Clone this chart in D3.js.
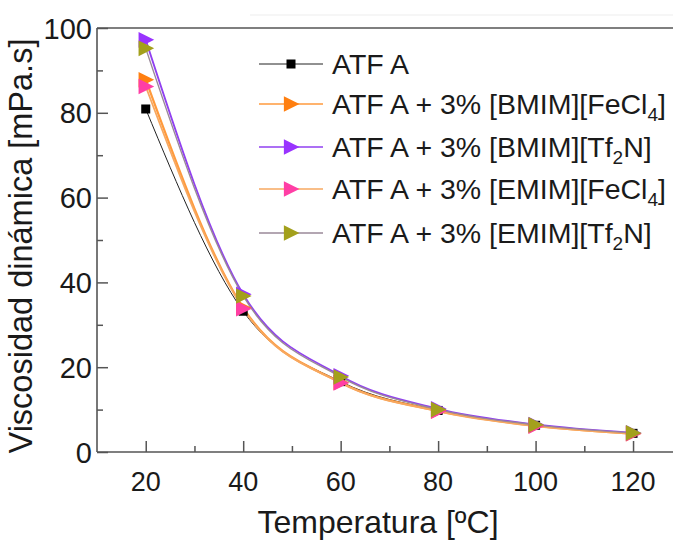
<!DOCTYPE html>
<html lang="es">
<head>
<meta charset="UTF-8">
<title>Viscosidad</title>
<script src="https://d3js.org/d3.v7.min.js"></script>
<style>
    body { margin: 0; background: #fff; }
    svg text { font-family: "Liberation Sans", Arial, sans-serif; fill: #1a1a1a; }
</style>
</head>
<body>
<svg id="chart" width="673" height="541"></svg>
<script>
    // data
    const temps = [20, 40, 60, 80, 100, 120];
    const atfA      = [80.9, 33.2, 16.6, 9.8, 6.3, 4.4];
    const bmimFeCl4 = [87.8, 34.0, 16.4, 9.7, 6.2, 4.3];
    const bmimTf2N  = [97.2, 37.2, 18.0, 10.2, 6.5, 4.5];
    const emimFeCl4 = [86.2, 33.8, 16.3, 9.6, 6.1, 4.3];
    const emimTf2N  = [95.2, 36.8, 17.7, 10.0, 6.4, 4.5];
    const seriesNames = ["ATF A", "ATF A + 3% [BMIM][FeCl4]", "ATF A + 3% [BMIM][Tf2N]",
                         "ATF A + 3% [EMIM][FeCl4]", "ATF A + 3% [EMIM][Tf2N]"];
    const yTicks = [0, 20, 40, 60, 80, 100];
    const xTicks = [20, 40, 60, 80, 100, 120];

    const series = [
        {name: seriesNames[0], values: atfA,      line: "#222",    marker: "#000",    shape: "square", w: 1},
        {name: seriesNames[1], values: bmimFeCl4, line: "#ff9a3c", marker: "#ff7f10", shape: "tri",    w: 2.2},
        {name: seriesNames[2], values: bmimTf2N,  line: "#9040f0", marker: "#9933ff", shape: "tri",    w: 1.8},
        {name: seriesNames[3], values: emimFeCl4, line: "#f7a860", marker: "#ff3ea5", shape: "tri",    w: 1.8},
        {name: seriesNames[4], values: emimTf2N,  line: "#9a8898", marker: "#a3a01c", shape: "tri",    w: 1.4}
    ];

    const svg = d3.select("#chart");
    const mLeft = 97, mTop = 28, mBottom = 452, mRight = 673;

    const x = d3.scaleLinear().domain([10, 128.2]).range([mLeft, mRight]);
    const y = d3.scaleLinear().domain([0, 100]).range([mBottom, mTop]);

    // faint line above the frame
    svg.append("line")
        .attr("x1", 250).attr("x2", 673).attr("y1", 15).attr("y2", 15)
        .attr("stroke", "#f6f6f6").attr("stroke-width", 2);

    // axes (ticks pointing inward)
    svg.append("g")
        .attr("transform", `translate(0,${mBottom})`)
        .call(d3.axisTop(x).tickValues(xTicks).tickSize(11).tickFormat(""));
    svg.append("g")
        .attr("transform", `translate(0,${mBottom})`)
        .call(d3.axisTop(x).tickValues(d3.range(30, 130, 20)).tickSize(6).tickFormat(""));
    svg.append("g")
        .attr("transform", `translate(${mLeft},0)`)
        .call(d3.axisRight(y).tickValues(yTicks).tickSize(11).tickFormat(""));
    svg.append("g")
        .attr("transform", `translate(${mLeft},0)`)
        .call(d3.axisRight(y).tickValues(d3.range(10, 100, 20)).tickSize(6).tickFormat(""));
    svg.selectAll(".domain").remove();
    svg.selectAll(".tick line").attr("stroke", "#555").attr("stroke-width", 1.5);

    // frame lines
    svg.append("line").attr("x1", mLeft).attr("x2", mRight).attr("y1", mBottom).attr("y2", mBottom)
        .attr("stroke", "#555").attr("stroke-width", 1.6);
    svg.append("line").attr("x1", mLeft).attr("x2", mLeft).attr("y1", mTop).attr("y2", mBottom)
        .attr("stroke", "#555").attr("stroke-width", 1.6);
    svg.append("line").attr("x1", mLeft).attr("x2", mRight).attr("y1", mTop).attr("y2", mTop)
        .attr("stroke", "#555").attr("stroke-width", 1.6);

    // tick labels
    svg.selectAll(".xlab").data(xTicks).enter().append("text")
        .attr("x", d => x(d)).attr("y", 491)
        .attr("text-anchor", "middle").attr("font-size", 27)
        .text(d => d);
    svg.selectAll(".ylab").data(yTicks).enter().append("text")
        .attr("x", 92).attr("y", d => y(d) + 10.5)
        .attr("text-anchor", "end").attr("font-size", 29)
        .text(d => d);

    // axis titles
    svg.append("text")
        .attr("x", 378).attr("y", 533)
        .attr("text-anchor", "middle").attr("font-size", 32)
        .text("Temperatura [ºC]");
    svg.append("text")
        .attr("transform", "translate(32,246) rotate(-90)")
        .attr("text-anchor", "middle").attr("font-size", 32.5)
        .text("Viscosidad dinámica [mPa.s]");

    // curves
    const line = d3.line()
        .x((d, i) => x(temps[i]))
        .y(d => y(d))
        .curve(d3.curveMonotoneX);

    const triangle = s => `M${-s * 0.55},${-s * 0.6}L${s * 0.65},0L${-s * 0.55},${s * 0.6}Z`;

    function drawMarker(g, shape, color, cx, cy) {
        if (shape === "square") {
            g.append("rect").attr("x", cx - 4.5).attr("y", cy - 4.5)
                .attr("width", 9).attr("height", 9).attr("fill", color);
        } else {
            g.append("path").attr("d", triangle(13))
                .attr("transform", `translate(${cx},${cy})`)
                .attr("fill", color);
        }
    }

    series.forEach(s => {
        svg.append("path")
            .attr("d", line(s.values))
            .attr("fill", "none")
            .attr("stroke", s.line)
            .attr("stroke-width", s.w);
    });
    series.forEach(s => {
        const g = svg.append("g");
        s.values.forEach((v, i) => drawMarker(g, s.shape, s.marker, x(temps[i]), y(v)));
    });

    // legend
    const legendY = [64, 104, 147, 189, 233];
    series.forEach((s, i) => {
        const g = svg.append("g");
        g.append("line").attr("x1", 259).attr("x2", 323)
            .attr("y1", legendY[i]).attr("y2", legendY[i])
            .attr("stroke", s.line).attr("stroke-width", s.w === 1 ? 1 : 1.6);
        drawMarker(g, s.shape, s.marker, 291, legendY[i]);

        const t = g.append("text").attr("x", 332).attr("y", legendY[i] + 10)
            .attr("font-size", 28.5);
        // subscripts for FeCl4 / Tf2N
        const m = s.name.match(/^(.*?)(FeCl|Tf)(4|2)(.*)$/);
        if (m) {
            t.append("tspan").text(m[1] + m[2]);
            t.append("tspan").attr("font-size", 19).attr("dy", 7).text(m[3]);
            t.append("tspan").attr("dy", -7).text(m[4]);
        } else {
            t.text(s.name);
        }
    });
</script>
</body>
</html>
